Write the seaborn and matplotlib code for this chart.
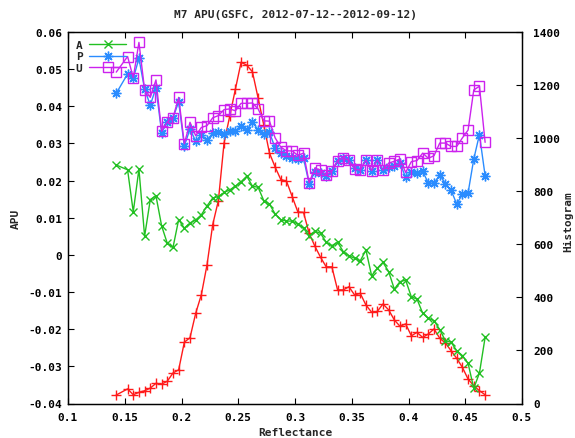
import matplotlib
matplotlib.use("Agg")
import matplotlib.pyplot as plt
import seaborn as sns
import pandas as pd

reflectance = [0.1425, 0.1525, 0.1575, 0.1625, 0.1675, 0.1725, 0.1775, 0.1825, 0.1875, 0.1925,
               0.1975, 0.2025, 0.2075, 0.2125, 0.2175, 0.2225, 0.2275, 0.2325, 0.2375, 0.2425,
               0.2475, 0.2525, 0.2575, 0.2625, 0.2675, 0.2725, 0.2775, 0.2825, 0.2875, 0.2925,
               0.2975, 0.3025, 0.3075, 0.3125, 0.3175, 0.3225, 0.3275, 0.3325, 0.3375, 0.3425,
               0.3475, 0.3525, 0.3575, 0.3625, 0.3675, 0.3725, 0.3775, 0.3825, 0.3875, 0.3925,
               0.3975, 0.4025, 0.4075, 0.4125, 0.4175, 0.4225, 0.4275, 0.4325, 0.4375, 0.4425,
               0.4475, 0.4525, 0.4575, 0.4625, 0.4675]

apu_A = [0.0242, 0.0229, 0.0116, 0.0231, 0.0050, 0.0149, 0.0159, 0.0078, 0.0031, 0.0020,
         0.0095, 0.0072, 0.0086, 0.0094, 0.0108, 0.0132, 0.0153, 0.0157, 0.0168, 0.0175,
         0.0185, 0.0197, 0.0212, 0.0185, 0.0182, 0.0146, 0.0137, 0.0110, 0.0095, 0.0091,
         0.0091, 0.0083, 0.0072, 0.0051, 0.0064, 0.0058, 0.0034, 0.0025, 0.0034, 0.0009,
         -0.0002, -0.0009, -0.0016, 0.0013, -0.0056, -0.0036, -0.0020, -0.0045, -0.0092, -0.0072,
         -0.0068, -0.0113, -0.0119, -0.0157, -0.0171, -0.0177, -0.0201, -0.0231, -0.0235, -0.0258,
         -0.0271, -0.0292, -0.0359, -0.0318, -0.0222]

apu_P = [0.0435, 0.0487, 0.0475, 0.0529, 0.0446, 0.0403, 0.0450, 0.0329, 0.0357, 0.0369,
         0.0412, 0.0293, 0.0339, 0.0306, 0.0322, 0.0310, 0.0327, 0.0330, 0.0325, 0.0334,
         0.0334, 0.0348, 0.0337, 0.0357, 0.0337, 0.0325, 0.0330, 0.0288, 0.0274, 0.0266,
         0.0260, 0.0258, 0.0260, 0.0191, 0.0224, 0.0220, 0.0213, 0.0225, 0.0252, 0.0261,
         0.0255, 0.0233, 0.0228, 0.0255, 0.0227, 0.0255, 0.0228, 0.0237, 0.0240, 0.0247,
         0.0209, 0.0224, 0.0220, 0.0225, 0.0193, 0.0193, 0.0215, 0.0192, 0.0174, 0.0137,
         0.0163, 0.0167, 0.0258, 0.0324, 0.0213]

apu_U = [0.0492, 0.0534, 0.0477, 0.0572, 0.0444, 0.0424, 0.0471, 0.0333, 0.0358, 0.0369,
         0.0424, 0.0299, 0.0357, 0.0321, 0.0343, 0.0348, 0.0369, 0.0375, 0.0391, 0.0393,
         0.0388, 0.0408, 0.0408, 0.0409, 0.0393, 0.0361, 0.0360, 0.0315, 0.0290, 0.0280,
         0.0280, 0.0268, 0.0274, 0.0194, 0.0234, 0.0228, 0.0215, 0.0225, 0.0254, 0.0261,
         0.0255, 0.0231, 0.0228, 0.0256, 0.0227, 0.0256, 0.0228, 0.0247, 0.0252, 0.0258,
         0.0222, 0.0251, 0.0254, 0.0274, 0.0260, 0.0267, 0.0301, 0.0301, 0.0292, 0.0292,
         0.0315, 0.0336, 0.0444, 0.0454, 0.0303]

histogram = [32, 55, 33, 42, 48, 58, 76, 73, 84, 115,
             127, 231, 248, 340, 410, 523, 674, 765, 982, 1083,
             1185, 1286, 1275, 1250, 1151, 1049, 944, 891, 844, 838,
             780, 722, 720, 641, 593, 551, 515, 515, 428, 428,
             440, 409, 415, 371, 344, 347, 375, 353, 315, 291,
             300, 255, 268, 249, 262, 281, 246, 228, 199, 170,
             136, 92, 67, 48, 33]

x_ticks = [0.1, 0.15, 0.2, 0.25, 0.3, 0.35, 0.4, 0.45, 0.5]
x_labels = ["0.1", "0.15", "0.2", "0.25", "0.3", "0.35", "0.4", "0.45", "0.5"]
y_ticks = [-0.04, -0.03, -0.02, -0.01, 0, 0.01, 0.02, 0.03, 0.04, 0.05, 0.06]
y_labels = ["-0.04", "-0.03", "-0.02", "-0.01", "0", "0.01", "0.02", "0.03", "0.04", "0.05", "0.06"]
y2_ticks = [0, 200, 400, 600, 800, 1000, 1200, 1400]
y2_labels = ["0", "200", "400", "600", "800", "1000", "1200", "1400"]

title = "M7 APU(GSFC, 2012-07-12--2012-09-12)"

sns.set_style("white")
plt.rcParams["font.family"] = ["DejaVu Sans Mono", "DejaVu Sans"]
plt.rcParams["font.weight"] = "bold"

df = pd.DataFrame({"x": reflectance, "A": apu_A, "P": apu_P, "U": apu_U, "H": histogram})

fig = plt.figure(figsize=(5.75, 4.39), dpi=100)
L, R, B, T = 68 / 575, 522 / 575, 1 - 404.5 / 439, 1 - 33 / 439
ax1 = fig.add_axes([L, B, R - L, T - B])
ax2 = ax1.twinx()

fs = 8
lw = 1.0
c_red, c_green, c_blue, c_purple = "#ff1a1a", "#22c022", "#2a8cff", "#cc22ee"

sns.lineplot(data=df, x="x", y="H", ax=ax2, color=c_red, lw=lw, marker="+",
             markersize=7, markeredgewidth=1.0, markeredgecolor=c_red, legend=False)

sns.lineplot(data=df, x="x", y="A", ax=ax1, color=c_green, lw=lw, marker="x",
             markersize=6, markeredgewidth=1.0, markeredgecolor=c_green, label="A")
sns.lineplot(data=df, x="x", y="P", ax=ax1, color=c_blue, lw=lw, marker=(8, 2, 0),
             markersize=7, markeredgewidth=1.0, markeredgecolor=c_blue, label="P")
sns.lineplot(data=df, x="x", y="U", ax=ax1, color=c_purple, lw=lw, marker="s",
             markersize=6.5, markerfacecolor="none", markeredgecolor=c_purple,
             markeredgewidth=1.0, label="U")

ax1.set_zorder(ax2.get_zorder() + 1)
ax1.patch.set_visible(False)

ax1.set_xlim(0.1, 0.5)
ax1.set_ylim(-0.04, 0.06)
ax2.set_ylim(0, 1400)

ax1.set_xticks(x_ticks)
ax1.set_xticklabels(x_labels, fontsize=fs, fontweight="bold")
ax1.set_yticks(y_ticks)
ax1.set_yticklabels(y_labels, fontsize=fs, fontweight="bold")
ax2.set_yticks(y2_ticks)
ax2.set_yticklabels(y2_labels, fontsize=fs, fontweight="bold")

ax1.tick_params(axis="x", direction="in", length=4, width=0.8, top=True, bottom=True, pad=6, colors="black")
ax1.tick_params(axis="y", direction="in", length=4, width=0.8, left=True, right=False, pad=4, colors="black")
ax2.tick_params(axis="y", direction="in", length=4, width=0.8, right=True, left=False, pad=8, colors="black")

for ax in (ax1, ax2):
    for s in ax.spines.values():
        s.set_color("black")
        s.set_linewidth(0.9)

ax1.set_xlabel("Reflectance", fontsize=fs, fontweight="bold", labelpad=4)
ax1.set_ylabel("APU", fontsize=fs, fontweight="bold", labelpad=6)
ax2.set_ylabel("")
fig.text(568 / 575, 1 - 222 / 439, "Histogram", rotation=90, fontsize=fs, fontweight="bold",
         ha="center", va="center")

ax1.set_title(title, fontsize=fs, fontweight="bold", pad=11)

leg = ax1.legend(loc="upper left", bbox_to_anchor=(0.0, 1.0), frameon=False, markerfirst=False,
                 handlelength=3.3, labelspacing=0.15, handletextpad=0.6,
                 borderaxespad=0.3, prop={"weight": "bold", "size": fs})

fig.savefig("out.png", dpi=100)
